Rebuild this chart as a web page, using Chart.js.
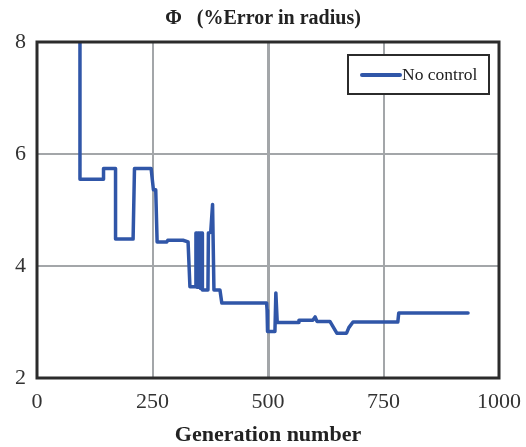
<!DOCTYPE html>
<html lang="en">
<head>
    <meta charset="UTF-8">
    <title>Error in radius vs generation</title>
    <script src="https://cdn.jsdelivr.net/npm/chart.js"></script>
    <style>
        html, body {
            margin: 0;
            padding: 0;
            background: #ffffff;
        }
        .chart-box {
            position: relative;
            width: 526px;
            height: 447px;
        }
    </style>
</head>
<body>
    <div class="chart-box">
        <canvas id="errorChart"></canvas>
    </div>

    <script>
        // Generation number at each step of the curve
        const generations = [
            93, 93, 144, 144, 170, 170, 208, 211, 247, 252, 257, 260, 281, 283,
            316, 327, 331, 344, 344, 346, 346, 348, 348, 350, 350, 352, 352, 354,
            354, 356, 356, 358, 358, 370, 371, 376, 380, 383, 389, 396, 400, 497,
            498, 499, 515, 517, 520, 565, 567, 597, 602, 606, 634, 649, 670, 675,
            684, 781, 783, 933
        ];

        // Phi, % error in radius
        const phiNoControl = [
            8.0, 5.55, 5.55, 5.74, 5.74, 4.48, 4.48, 5.74, 5.74, 5.36, 5.36, 4.43, 4.43, 4.46,
            4.46, 4.43, 3.63, 3.63, 4.59, 4.59, 3.62, 3.62, 4.59, 4.59, 3.62, 3.62, 4.59, 4.59,
            3.6, 3.6, 4.59, 4.59, 3.57, 3.57, 4.59, 4.6, 5.1, 3.57, 3.57, 3.57, 3.34, 3.34,
            3.21, 2.83, 2.83, 3.52, 2.99, 2.99, 3.03, 3.03, 3.09, 3.01, 3.01, 2.8, 2.8, 2.9,
            3.0, 3.0, 3.16, 3.16
        ];

        const xTicks = [0, 250, 500, 750, 1000];
        const yTicks = [2, 4, 6, 8];

        const serif = "'Liberation Serif', 'DejaVu Serif', serif";
        const lineBlue = '#3056a8';
        const frameColor = '#2b2b2b';

        const points = generations.map((g, i) => ({ x: g, y: phiNoControl[i] }));

        // Closed frame around the plot area (top and right sides too)
        const framePlugin = {
            id: 'frame',
            afterDatasetsDraw(chart) {
                const { ctx, chartArea: a } = chart;
                ctx.save();
                ctx.strokeStyle = frameColor;
                ctx.lineWidth = 3;
                ctx.strokeRect(a.left, a.top, a.right - a.left, a.bottom - a.top);
                ctx.restore();
            }
        };

        // Boxed legend in the upper right corner of the plot
        const boxLegendPlugin = {
            id: 'boxLegend',
            afterDraw(chart) {
                const { ctx } = chart;
                const ds = chart.data.datasets[0];
                const x = 348, y = 55, w = 141, h = 39;
                ctx.save();
                ctx.fillStyle = '#ffffff';
                ctx.fillRect(x, y, w, h);
                ctx.strokeStyle = frameColor;
                ctx.lineWidth = 2;
                ctx.strokeRect(x, y, w, h);
                ctx.strokeStyle = ds.borderColor;
                ctx.lineWidth = 4;
                ctx.lineCap = 'round';
                ctx.beginPath();
                ctx.moveTo(362, 75);
                ctx.lineTo(400, 75);
                ctx.stroke();
                ctx.fillStyle = '#222222';
                ctx.font = '17.5px ' + serif;
                ctx.textBaseline = 'middle';
                ctx.fillText(ds.label, 402, 75);
                ctx.restore();
            }
        };

        new Chart(document.getElementById('errorChart'), {
            type: 'line',
            data: {
                datasets: [{
                    label: 'No control',
                    data: points,
                    borderColor: lineBlue,
                    borderWidth: 3.5,
                    borderJoinStyle: 'round',
                    borderCapStyle: 'round',
                    pointRadius: 0,
                    tension: 0,
                    fill: false
                }]
            },
            options: {
                responsive: true,
                maintainAspectRatio: false,
                animation: false,
                layout: {
                    padding: 0
                },
                plugins: {
                    legend: { display: false },
                    tooltip: { enabled: false },
                    title: {
                        display: true,
                        text: 'Φ   (%Error in radius)',
                        color: '#222222',
                        font: { family: serif, size: 20, weight: 'bold' },
                        padding: { top: 7, bottom: 11 }
                    }
                },
                scales: {
                    x: {
                        type: 'linear',
                        min: 0,
                        max: 1000,
                        afterBuildTicks(scale) {
                            scale.ticks = xTicks.map(v => ({ value: v }));
                        },
                        afterFit(scale) {
                            // room on the right for the "1000" label
                            scale.height = 69;
                            scale.paddingLeft = 0;
                            scale.paddingRight = 27;
                        },
                        grid: {
                            color: '#a3a6a9',
                            lineWidth: ctx => ctx.tick && ctx.tick.value === 500 ? 3 : 2,
                            drawTicks: false
                        },
                        border: { display: false },
                        ticks: {
                            color: '#333333',
                            font: { family: serif, size: 22 },
                            padding: 11,
                            maxRotation: 0,
                            callback: v => String(v)
                        },
                        title: {
                            display: true,
                            text: 'Generation number',
                            color: '#222222',
                            font: { family: serif, size: 22, weight: 'bold', lineHeight: 1.1 },
                            padding: { top: 0, bottom: 0 }
                        }
                    },
                    y: {
                        min: 2,
                        max: 8,
                        afterBuildTicks(scale) {
                            scale.ticks = yTicks.map(v => ({ value: v }));
                        },
                        afterFit(scale) {
                            scale.width = 37;
                            scale.paddingTop = 0;
                            scale.paddingBottom = 0;
                        },
                        grid: {
                            color: '#a3a6a9',
                            lineWidth: 2,
                            drawTicks: false
                        },
                        border: { display: false },
                        ticks: {
                            color: '#333333',
                            font: { family: serif, size: 22 },
                            padding: 11
                        }
                    }
                }
            },
            plugins: [framePlugin, boxLegendPlugin]
        });
    </script>
</body>
</html>
